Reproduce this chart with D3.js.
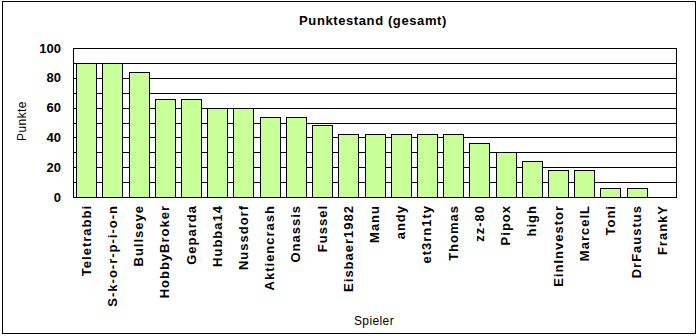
<!DOCTYPE html>
<html>
<head>
<meta charset="utf-8">
<script src="https://cdn.jsdelivr.net/npm/d3@7"></script>
<style>
  body { margin: 0; background: #fff; }
  svg { display: block; font-family: Arial, "Liberation Sans", sans-serif; }
</style>
</head>
<body>
<div id="chart"></div>
<script>
var players = ["Teletrabbi", "S-k-o-r-p-i-o-n", "Bullseye", "HobbyBroker", "Geparda",
  "Hubba14", "Nussdorf", "Aktiencrash", "Onassis", "Fussel", "Eisbaer1982", "Manu",
  "andy", "et3rn1ty", "Thomas", "zz-80", "Pipox", "high", "EinInvestor", "MarcelL",
  "Toni", "DrFaustus", "FrankY"];
var points = [90, 90, 84, 66, 66, 60, 60, 54, 54, 48, 42, 42, 42, 42, 42, 36, 30, 24, 18, 18, 6, 6, 0];
var yTicks = [0, 20, 40, 60, 80, 100];

var data = players.map(function(p, i) { return { name: p, value: points[i] }; });

var svgWidth = 699, svgHeight = 336;
var margin = { top: 48, right: 23, bottom: 139, left: 73 };
var width = svgWidth - margin.left - margin.right;
var height = svgHeight - margin.top - margin.bottom;

var svg = d3.select("#chart").append("svg")
  .attr("width", svgWidth)
  .attr("height", svgHeight);

// outer frame
svg.append("rect")
  .attr("x", 2.5).attr("y", 1.5)
  .attr("width", 693).attr("height", 332)
  .attr("fill", "#fff").attr("stroke", "#000");

var chartGroup = svg.append("g")
  .attr("transform", `translate(${margin.left}, ${margin.top})`);

var x = d3.scaleBand()
  .domain(players)
  .range([0, width])
  .paddingInner(0.24)
  .paddingOuter(0.12);

var y = d3.scaleLinear()
  .domain([0, 100])
  .range([height, 0]);

// plot area + gridlines
chartGroup.append("rect")
  .attr("x", 0.5).attr("y", 0.5)
  .attr("width", width).attr("height", height)
  .attr("fill", "#fff").attr("stroke", "#000");

chartGroup.selectAll(".grid")
  .data(d3.range(10, 100, 10))
  .enter().append("line")
  .attr("x1", 0).attr("x2", width)
  .attr("y1", d => Math.round(y(d)) + 0.5)
  .attr("y2", d => Math.round(y(d)) + 0.5)
  .attr("stroke", "#000");

// bars
chartGroup.selectAll(".bar")
  .data(data.filter(d => d.value > 0))
  .enter().append("rect")
  .attr("x", d => Math.round(x(d.name)) + 0.5)
  .attr("y", d => Math.round(y(d.value)) + 0.5)
  .attr("width", Math.round(x.bandwidth()))
  .attr("height", d => Math.round(height - y(d.value)))
  .attr("fill", "#c8ff98")
  .attr("stroke", "#000");

// y axis
var leftAxis = d3.axisLeft(y).tickValues(yTicks).tickSize(0).tickPadding(12);
var yAxis = chartGroup.append("g").call(leftAxis);
yAxis.select(".domain").remove();
yAxis.selectAll("text")
  .attr("font-size", "13px")
  .attr("font-weight", "bold")
  .attr("font-family", "Arial, 'Liberation Sans', sans-serif")
  .attr("fill", "#000");

// baseline
chartGroup.append("line")
  .attr("x1", 0).attr("x2", width)
  .attr("y1", height + 0.5).attr("y2", height + 0.5)
  .attr("stroke", "#000");

// x labels
var bottomAxis = d3.axisBottom(x).tickSize(0);
var xAxis = chartGroup.append("g")
  .attr("transform", `translate(0, ${height})`)
  .call(bottomAxis);
xAxis.select(".domain").remove();
xAxis.selectAll("text")
  .attr("transform", "rotate(-90)")
  .attr("x", -8)
  .attr("y", 0)
  .attr("dy", "0.35em")
  .style("text-anchor", "end")
  .attr("font-size", "13px")
  .attr("letter-spacing", "1px")
  .attr("font-weight", "bold")
  .attr("font-family", "Arial, 'Liberation Sans', sans-serif")
  .attr("fill", "#000");

// title
svg.append("text")
  .attr("x", 373).attr("y", 25)
  .attr("text-anchor", "middle")
  .attr("font-size", "13px")
  .attr("letter-spacing", "0.6px")
  .attr("font-weight", "bold")
  .text("Punktestand (gesamt)");

// axis titles
svg.append("text")
  .attr("transform", "translate(26, 121) rotate(-90)")
  .attr("text-anchor", "middle")
  .attr("font-size", "12px")
  .attr("letter-spacing", "0.4px")
  .text("Punkte");

svg.append("text")
  .attr("x", 374).attr("y", 325)
  .attr("text-anchor", "middle")
  .attr("font-size", "12px")
  .attr("letter-spacing", "0.4px")
  .text("Spieler");
</script>
</body>
</html>
